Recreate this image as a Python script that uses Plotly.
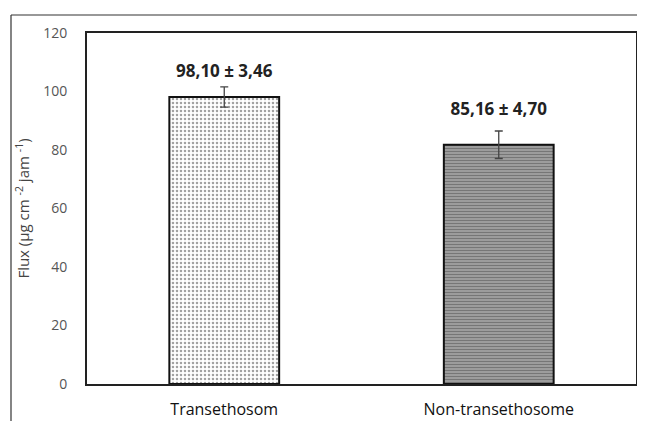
import plotly.graph_objects as go

categories = ["Transethosom", "Non-transethosome"]
values = [98.1, 81.8]
errors = [3.46, 4.70]
labels = ["98,10 ± 3,46", "85,16 ± 4,70"]
label_y = [106.5, 93.3]
y_ticks = [0, 20, 40, 60, 80, 100, 120]

fig = go.Figure()
fig.add_trace(go.Bar(
    x=categories, y=values, width=0.4,
    error_y=dict(type="data", array=errors, color="#444", thickness=1.3, width=4),
    marker=dict(
        color=["white", "#a8a8a8"],
        line=dict(color="#111", width=2),
        pattern=dict(shape=[".", "-"], fgcolor=["#333", "#4a4a4a"],
                     bgcolor=["white", "#a8a8a8"], size=[4, 3], solidity=[0.32, 0.5],
                     fillmode="overlay"),
    ),
    showlegend=False,
))
fig.add_trace(go.Scatter(
    x=categories, y=label_y, mode="text", text=labels,
    textfont=dict(family="Open Sans", size=17, color="#222", weight="bold"),
    showlegend=False, hoverinfo="skip",
))

OFF = 8  # page body margin
W, H = 645 - OFF, 421 - OFF
L, T = 87 - OFF, 33 - OFF
R = W - (636 - OFF)
B = H - (384 - OFF)
pw, ph = W - L - R, H - T - B
def px(x): return (x - OFF - L) / pw
def py(y): return (H - B - (y - OFF)) / ph

fig.update_layout(
    width=W, height=H,
    margin=dict(l=L, r=R, t=T, b=B, autoexpand=False),
    paper_bgcolor="white", plot_bgcolor="white",
    shapes=[
        dict(type="line", xref="paper", yref="paper", x0=px(11), x1=px(645), y0=py(15), y1=py(15),
             line=dict(color="#333", width=1.2)),
        dict(type="line", xref="paper", yref="paper", x0=px(11), x1=px(11), y0=py(15), y1=py(421),
             line=dict(color="#333", width=1.2)),
    ],
)
fig.update_xaxes(
    showline=True, linecolor="#222", linewidth=2, mirror=True, automargin=False,
    showgrid=False, ticks="", ticklabelstandoff=10,
    tickfont=dict(family="Open Sans", size=16, color="#111"),
)
fig.update_yaxes(
    range=[0, 120], tickvals=y_ticks, showline=True, linecolor="#222", linewidth=2, mirror=True,
    showgrid=False, ticks="", ticklabelstandoff=15, zeroline=False, automargin=False,
    tickfont=dict(family="Open Sans", size=14, color="#555"),
    title=dict(text="Flux (µg cm <sup>-2</sup> jam <sup>-1</sup>)", standoff=10,
               font=dict(family="Open Sans", size=15, color="#444")),
)
fig.write_html("out.html")
